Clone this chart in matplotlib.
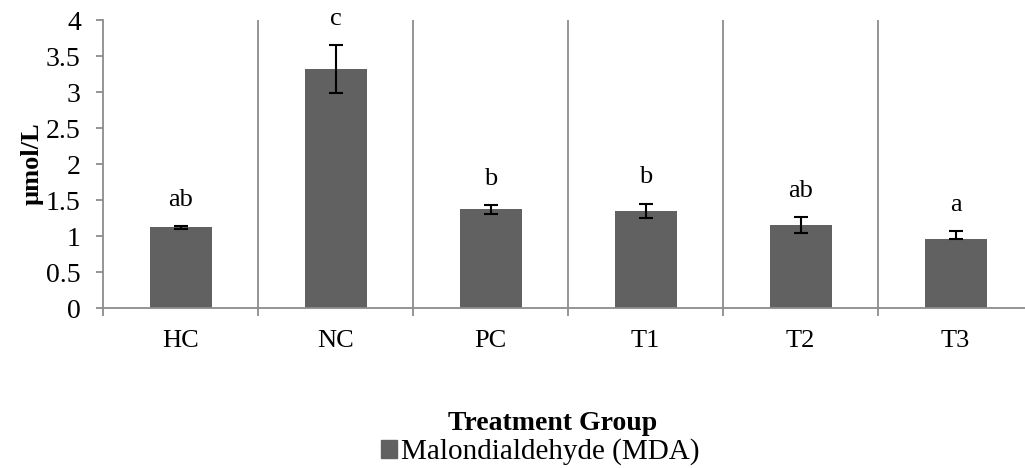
import matplotlib
matplotlib.use("Agg")
import matplotlib.pyplot as plt
import numpy as np
from matplotlib.patches import Patch

# Data
groups = ["HC", "NC", "PC", "T1", "T2", "T3"]
mda = [1.12, 3.32, 1.37, 1.35, 1.15, 0.96]
err_low = [0.02, 0.33, 0.06, 0.10, 0.11, 0.0]
err_high = [0.02, 0.33, 0.06, 0.10, 0.11, 0.11]
letters = ["ab", "c", "b", "b", "ab", "a"]

BAR = "#616161"
GRID = "#8c8c8c"

plt.rcParams["font.family"] = ["Liberation Serif", "DejaVu Serif"]

fig = plt.figure(figsize=(10.25, 4.68), dpi=100)
ax = fig.add_axes([103 / 1025, 1 - 308 / 468, 930 / 1025, 288 / 468])

x = np.arange(len(groups))
ax.bar(x, mda, width=0.4, color=BAR, zorder=2)
ax.errorbar(x, mda, yerr=[err_low, err_high], fmt="none", ecolor="black",
            elinewidth=1.5, capsize=5, capthick=1.5, zorder=3)

# significance letters above the error bars
for xi, m, e, lab in zip(x, mda, err_high, letters):
    ax.annotate(lab, (xi, m + e), xytext=(0, 19), textcoords="offset points",
                ha="center", va="center", fontsize=19)

ax.set_xlim(-0.5, len(groups) - 0.5)
ax.set_ylim(0, 4)
ax.set_yticks(np.arange(0, 4.01, 0.5))
ax.set_yticklabels(["0", "0.5", "1", "1.5", "2", "2.5", "3", "3.5", "4"])

# separators between categories
for b in np.arange(0.5, len(groups) - 0.5, 1):
    ax.axvline(b, color=GRID, linewidth=1.3, zorder=1)

ax.set_xticks(np.arange(-0.5, len(groups), 1))
ax.set_xticklabels([])
ax.set_xticks(x, minor=True)
ax.set_xticklabels(groups, minor=True)
ax.tick_params(axis="x", which="major", length=6, width=1.3, color=GRID)
ax.tick_params(axis="x", which="minor", length=0, pad=16, labelsize=19)
ax.tick_params(axis="y", length=5, width=1.3, color=GRID, labelsize=20, pad=11)

for s in ["top", "right"]:
    ax.spines[s].set_visible(False)
for s in ["left", "bottom"]:
    ax.spines[s].set_color(GRID)
    ax.spines[s].set_linewidth(1.3)

ax.set_ylabel("\u00b5mol/L", fontsize=19, fontweight="bold")
ax.yaxis.set_label_coords((44 - 103) / 930, 0.5)

fig.text(553 / 1025, 1 - 424 / 468, "Treatment Group", ha="center", va="center",
         fontsize=20, fontweight="bold")
fig.legend(handles=[Patch(color=BAR, label="Malondialdehyde (MDA)")],
           loc="center", bbox_to_anchor=(540 / 1025, 1 - 452 / 468),
           frameon=False, fontsize=21, handlelength=0.55, handleheight=0.55,
           handletextpad=0.15, borderpad=0)

fig.savefig("out.png", dpi=100)
